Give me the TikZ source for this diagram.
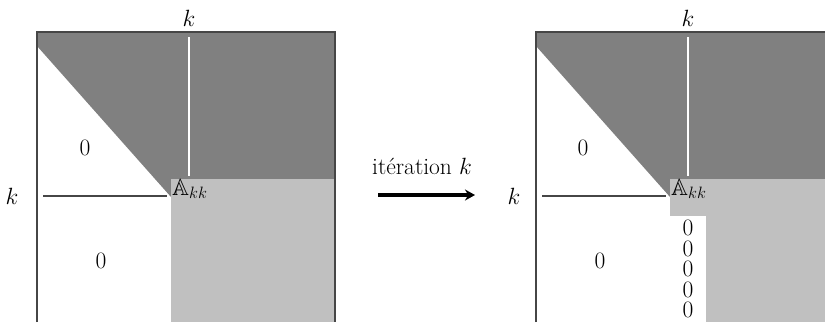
\documentclass[tikz,border=0pt]{standalone}
\usepackage{fix-cm}
\usepackage{amssymb}
\usetikzlibrary{arrows.meta}
\definecolor{darkfill}{RGB}{128,128,128}
\definecolor{lightfill}{RGB}{192,192,192}
\definecolor{edgecol}{RGB}{70,70,70}
\begin{document}
\begin{tikzpicture}[x=1pt,y=-1pt,
  lbl/.style={font=\fontsize{23.5}{28}\selectfont, inner sep=0pt},
  darkreg/.style={fill=darkfill, draw=none},
  lightreg/.style={fill=lightfill, draw=none},
  frame/.style={draw=edgecol, line width=1.1pt},
  kline/.style={draw=edgecol, line width=1.1pt},
  wline/.style={draw=white, line width=1.1pt},
  bigarrow/.style={line width=3.2pt, -{Stealth[length=10pt,width=11pt]}}]
\useasboundingbox (0,0) rectangle (825,322);
\clip (0,0) rectangle (825,322);

% ---------- left matrix ----------
\begin{scope}[shift={(37,32)}]
  \fill[darkreg] (0,0) -- (298,0) -- (298,147) -- (134,147) -- (134,165) -- (0,14) -- cycle;
  \fill[lightreg] (134,147) rectangle (298,290);
  \draw[wline] (152,5) -- (152,144);
  \draw[kline] (6,164) -- (130,164);
  \draw[frame] (0,290) -- (0,0) -- (298,0) -- (298,290);
  \node[lbl] (Ltopk) at (152,-14) {$k$};
  \node[lbl] (Lleftk) at (-25,164) {$k$};
  \node[lbl, anchor=base west] (LA) at (135,163) {$\mathbb{A}_{kk}$};
  \node[lbl] (Lz1) at (48,116) {$0$};
  \node[lbl] (Lz2) at (64,229) {$0$};
\end{scope}

% ---------- arrow ----------
\coordinate (arrS) at (378,195);
\coordinate (arrE) at (475,195);
\draw[bigarrow] (arrS) -- (arrE);
\node[lbl] (itlab) at (422,166) {itération $k$};

% ---------- right matrix ----------
\begin{scope}[shift={(536,32)}]
  \fill[darkreg] (0,0) -- (298,0) -- (298,147) -- (134,147) -- (134,165) -- (0,14) -- cycle;
  \fill[lightreg] (134,147) rectangle (298,184);
  \fill[lightreg] (170,184) rectangle (298,290);
  \draw[wline] (152,5) -- (152,144);
  \draw[kline] (6,164) -- (130,164);
  \draw[frame] (0,290) -- (0,0) -- (298,0) -- (298,290);
  \node[lbl] (Rtopk) at (152,-14) {$k$};
  \node[lbl] (Rleftk) at (-22,164) {$k$};
  \node[lbl, anchor=base west] (RA) at (135,163) {$\mathbb{A}_{kk}$};
  \node[lbl] (Rz1) at (47,116) {$0$};
  \node[lbl] (Rz2) at (64,229) {$0$};
  \node[lbl, align=center, anchor=north,
        font=\fontsize{23.5}{20.5}\selectfont] (zcol) at (152,188)
        {0\\0\\0\\0\\0};
\end{scope}
\end{tikzpicture}
\end{document}
